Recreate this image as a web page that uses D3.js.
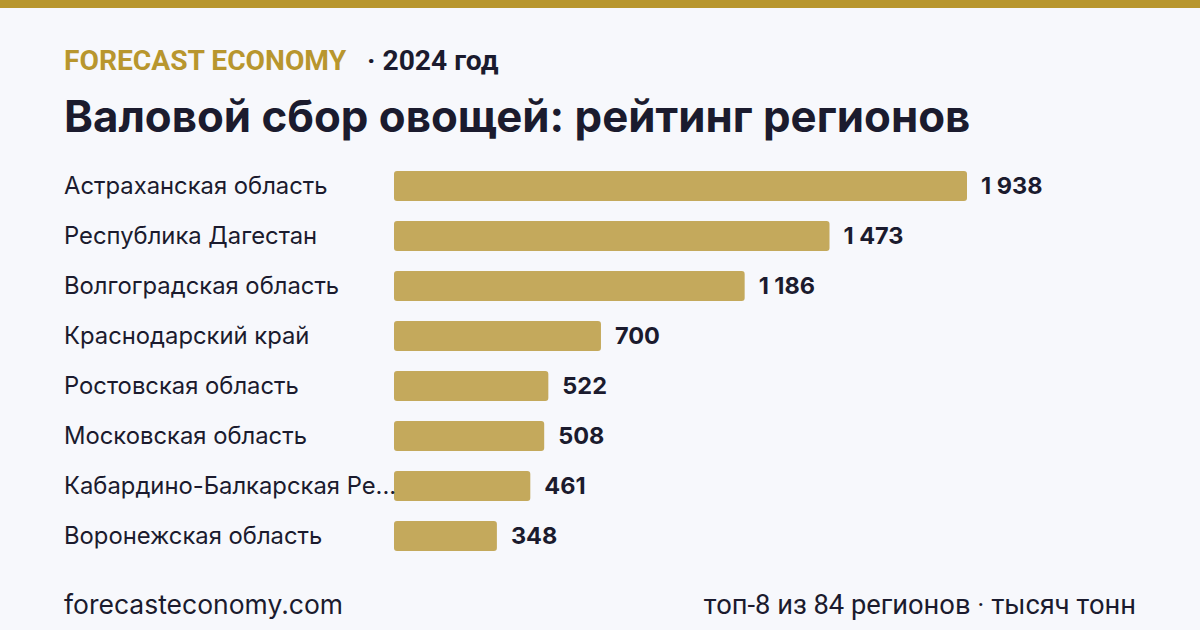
<!DOCTYPE html>
<html><head><meta charset="utf-8">
<script src="https://cdn.jsdelivr.net/npm/d3@7"></script>
<style>
html,body{margin:0;padding:0;background:#f7f8fc;}
svg{display:block;}
</style></head>
<body>
<svg id="chart" width="1200" height="630"></svg>
<script>
const regions = ["Астраханская область","Республика Дагестан","Волгоградская область","Краснодарский край","Ростовская область","Московская область","Кабардино-Балкарская Республика","Воронежская область"];
const values = [1938,1473,1186,700,522,508,461,348];
const brand = "FORECAST ECONOMY";
const yearLabel = "· 2024 год";
const title = "Валовой сбор овощей: рейтинг регионов";
const footerLeft = "forecasteconomy.com";
const footerRight = "топ-8 из 84 регионов · тысяч тонн";

const svg = d3.select("#chart");
const W = 1200, H = 630;
svg.append("rect").attr("width",W).attr("height",H).attr("fill","#f7f8fc");
svg.append("rect").attr("width",W).attr("height",8).attr("fill","#b8962e");

svg.append("text").attr("x",64).attr("y",70)
  .attr("font-family","Roboto, sans-serif").attr("font-weight",700).attr("font-size",28.2)
  .attr("fill","#b8962e").text(brand);
svg.append("text").attr("x",367).attr("y",70)
  .attr("font-family","Roboto, sans-serif").attr("font-weight",700).attr("font-size",28.2)
  .attr("fill","#1b1b2e").text(yearLabel);
svg.append("text").attr("x",64).attr("y",132)
  .attr("font-family","Inter, sans-serif").attr("font-weight",700).attr("font-size",43.8)
  .attr("fill","#1b1b2e").text(title);

const x = d3.scaleLinear().domain([0, d3.max(values)]).range([394, 967]);
const y = d3.scaleBand().domain(regions).range([161, 561]).paddingInner(0.4).paddingOuter(0.2);

const fmt = v => d3.format(",")(v).replace(/,/g, "\u00A0");

const g = svg.append("g");
const rows = g.selectAll("g.row").data(regions).join("g").attr("class","row");
rows.append("rect")
  .attr("x", x(0)).attr("y", d => y(d))
  .attr("width", (d,i) => x(values[i]) - x(0))
  .attr("height", y.bandwidth())
  .attr("rx", 3).attr("fill", "#c4a95c");
rows.append("text")
  .attr("x", (d,i) => x(values[i]) + 14)
  .attr("y", d => y(d) + y.bandwidth()/2)
  .attr("dy","0.35em")
  .attr("font-family","Inter, sans-serif").attr("font-weight",700).attr("font-size",23.5)
  .attr("fill","#1b1b2e").text((d,i)=>fmt(values[i]));
rows.append("text")
  .attr("x", 64)
  .attr("y", d => y(d) + y.bandwidth()/2)
  .attr("dy","0.35em")
  .attr("font-family","Inter, sans-serif").attr("font-size",23.8)
  .attr("fill","#1b1b2e").text(d=>d)
  .each(function(d){
    const el = d3.select(this);
    const maxW = 334;
    if (this.getComputedTextLength() > maxW) {
      let s = d;
      while (s.length > 1) {
        s = s.slice(0,-1);
        el.text(s.trimEnd() + "...");
        if (this.getComputedTextLength() <= maxW) break;
      }
    }
  });

svg.append("text").attr("x",64).attr("y",614)
  .attr("font-family","Inter, sans-serif").attr("font-size",26.5)
  .attr("fill","#1b1b2e").text(footerLeft);
svg.append("text").attr("x",1136).attr("y",614).attr("text-anchor","end")
  .attr("font-family","Roboto, sans-serif").attr("font-size",27.3)
  .attr("fill","#1b1b2e").text(footerRight);
</script>
</body></html>
